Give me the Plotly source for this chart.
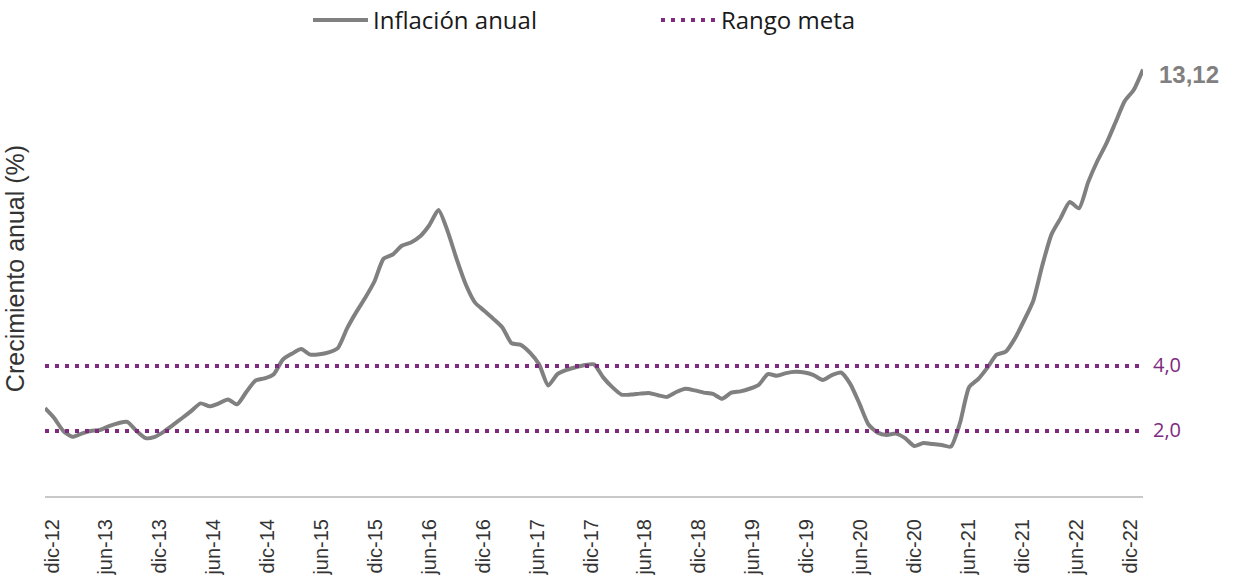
import plotly.graph_objects as go

# Monthly annual inflation, dic-12 ... dic-22
inflacion = [
    2.70, 2.40, 2.00, 1.82, 1.92, 2.00, 2.03, 2.15, 2.24, 2.28, 2.00, 1.78,
    1.82, 1.98, 2.19, 2.40, 2.62, 2.85, 2.76, 2.85, 2.97, 2.82, 3.20, 3.55,
    3.62, 3.75, 4.20, 4.38, 4.52, 4.35, 4.36, 4.42, 4.55, 5.15, 5.65, 6.10,
    6.60, 7.30, 7.43, 7.70, 7.80, 7.99, 8.33, 8.80, 8.15, 7.28, 6.50, 5.95,
    5.70, 5.45, 5.18, 4.70, 4.65, 4.41, 4.05, 3.40, 3.75, 3.88, 3.96, 4.03,
    4.05, 3.65, 3.35, 3.12, 3.12, 3.15, 3.17, 3.10, 3.05, 3.20, 3.30, 3.25,
    3.18, 3.14, 2.99, 3.18, 3.22, 3.30, 3.42, 3.75, 3.70, 3.78, 3.82, 3.80,
    3.72, 3.57, 3.72, 3.80, 3.45, 2.85, 2.20, 1.95, 1.88, 1.92, 1.78, 1.54,
    1.63, 1.60, 1.57, 1.52, 2.25, 3.35, 3.60, 3.95, 4.35, 4.44, 4.85, 5.40,
    6.00, 7.10, 8.05, 8.55, 9.05, 8.85, 9.65, 10.30, 10.85, 11.50, 12.15, 12.50,
    13.12,
]

tick_labels = [
    "dic-12", "jun-13", "dic-13", "jun-14", "dic-14", "jun-15", "dic-15",
    "jun-16", "dic-16", "jun-17", "dic-17", "jun-18", "dic-18", "jun-19",
    "dic-19", "jun-20", "dic-20", "jun-21", "dic-21", "jun-22", "dic-22",
]

meta_sup = 4.0
meta_inf = 2.0

n = len(inflacion)
x = list(range(n))
tick_pos = list(range(0, n, 6))

GRAY = "#808080"
PURPLE = "#7e2a7e"


def fmt(v, d):
    return f"{v:.{d}f}".replace(".", ",")


fig = go.Figure()
fig.add_trace(go.Scatter(
    x=x, y=inflacion, mode="lines", name="Inflación anual",
    line=dict(color=GRAY, width=4, shape="spline", smoothing=0.6),
    hoverinfo="skip",
))
fig.add_trace(go.Scatter(
    x=[x[0], x[-1]], y=[meta_sup, meta_sup], mode="lines", name="Rango meta",
    legendgroup="meta", line=dict(color=PURPLE, width=4, dash="4px,6px"),
    hoverinfo="skip",
))
fig.add_trace(go.Scatter(
    x=[x[0], x[-1]], y=[meta_inf, meta_inf], mode="lines", name="Rango meta",
    legendgroup="meta", showlegend=False,
    line=dict(color=PURPLE, width=4, dash="4px,6px"), hoverinfo="skip",
))
# carrier trace for the tick-label axis
fig.add_trace(go.Scatter(
    x=[x[0], x[-1]], y=[meta_inf, meta_inf], xaxis="x2", mode="lines",
    line=dict(width=0, color="rgba(0,0,0,0)"), showlegend=False, hoverinfo="skip",
))

fig.update_layout(
    width=1233, height=579,
    paper_bgcolor="white", plot_bgcolor="rgba(0,0,0,0)",
    margin=dict(l=45, r=90, t=41, b=83, pad=0, autoexpand=False),
    showlegend=True,
    legend=dict(
        orientation="h", xref="paper", yref="paper",
        x=0.2395, y=1.095, xanchor="left", yanchor="top",
        font=dict(family="Open Sans", size=24, color="#1a1a1a"),
        itemwidth=55, entrywidth=278, entrywidthmode="pixels",
        bgcolor="rgba(0,0,0,0)", tracegroupgap=0,
    ),
    xaxis=dict(
        range=[0, n - 1], showticklabels=False, showline=True,
        linecolor="#c8c8c8", linewidth=1.5, showgrid=False, zeroline=False,
        ticks="", automargin=False,
    ),
    xaxis2=dict(
        domain=[0.0064, 0.9882], anchor="y", range=[0, n - 1],
        tickmode="array", tickvals=tick_pos, ticktext=tick_labels,
        tickangle=-90, showline=False, showgrid=False, zeroline=False,
        ticks="", ticklabelstandoff=18, automargin=False,
        tickfont=dict(family="Liberation Sans", size=20, color="#333333"),
    ),
    yaxis=dict(
        range=[0, 14], showticklabels=False, showgrid=False, zeroline=False,
        showline=False, ticks="", automargin=False,
        title=dict(text="Crecimiento anual (%)", standoff=12,
                   font=dict(family="Liberation Sans", size=25, color="#333333")),
    ),
    annotations=[
        dict(x=x[-1], y=inflacion[-1], xref="x", yref="y", xanchor="left",
             yanchor="middle", xshift=14, yshift=-5, showarrow=False,
             text=f"<b>{fmt(inflacion[-1], 2)}</b>",
             font=dict(family="Liberation Sans", size=24, color=GRAY)),
        dict(x=x[-1], y=meta_sup, xref="x", yref="y", xanchor="left",
             yanchor="middle", xshift=8, yshift=2, showarrow=False,
             text=fmt(meta_sup, 1),
             font=dict(family="Open Sans", size=20, color=PURPLE)),
        dict(x=x[-1], y=meta_inf, xref="x", yref="y", xanchor="left",
             yanchor="middle", xshift=8, yshift=2, showarrow=False,
             text=fmt(meta_inf, 1),
             font=dict(family="Open Sans", size=20, color=PURPLE)),
    ],
)

fig.write_html("out.html", config={"displayModeBar": False},
               post_script="document.body.style.margin='0';")
